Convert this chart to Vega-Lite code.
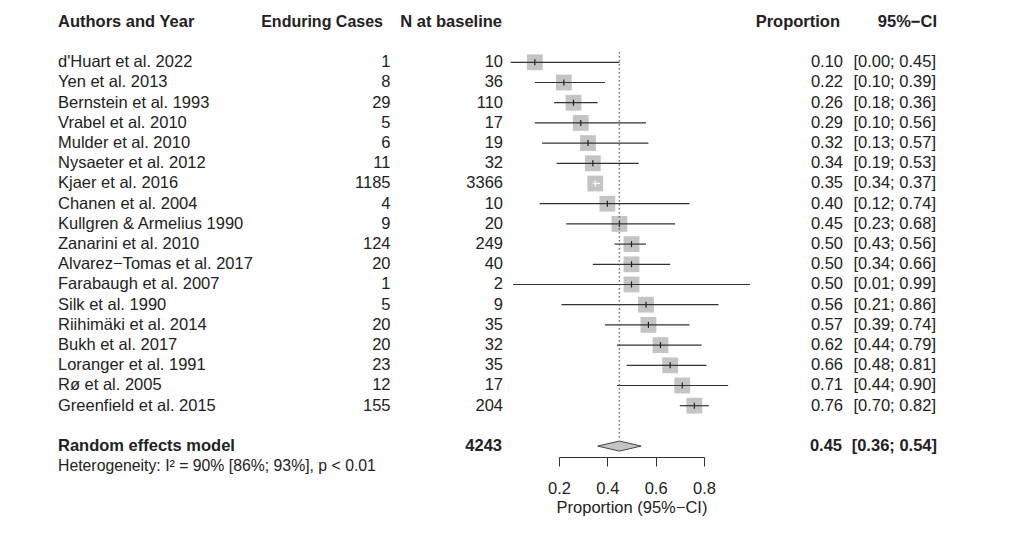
{
  "$schema": "https://vega.github.io/schema/vega-lite/v6.json",
  "padding": 0,
  "bounds": "flush",
  "spacing": 0,
  "background": "white",
  "config": {
    "view": {"stroke": null},
    "font": "Liberation Sans",
    "text": {"font": "Liberation Sans", "fontSize": 16.5, "color": "#222", "baseline": "middle"},
    "axis": {"domainColor": "#333", "tickColor": "#333", "domainWidth": 1, "tickWidth": 1, "labelFont": "Liberation Sans", "labelFontSize": 16.5, "labelColor": "#222", "titleFont": "Liberation Sans", "titleFontSize": 16.5, "titleFontWeight": "normal", "titleColor": "#222", "grid": false}
  },
  "datasets": {
    "studies": [
      {"order": 1, "study": "d'Huart et al. 2022", "cases": 1, "n": 10, "prop": 0.10, "lower": 0.00, "upper": 0.45},
      {"order": 2, "study": "Yen et al. 2013", "cases": 8, "n": 36, "prop": 0.22, "lower": 0.10, "upper": 0.39},
      {"order": 3, "study": "Bernstein et al. 1993", "cases": 29, "n": 110, "prop": 0.26, "lower": 0.18, "upper": 0.36},
      {"order": 4, "study": "Vrabel et al. 2010", "cases": 5, "n": 17, "prop": 0.29, "lower": 0.10, "upper": 0.56},
      {"order": 5, "study": "Mulder et al. 2010", "cases": 6, "n": 19, "prop": 0.32, "lower": 0.13, "upper": 0.57},
      {"order": 6, "study": "Nysaeter et al. 2012", "cases": 11, "n": 32, "prop": 0.34, "lower": 0.19, "upper": 0.53},
      {"order": 7, "study": "Kjaer et al. 2016", "cases": 1185, "n": 3366, "prop": 0.35, "lower": 0.34, "upper": 0.37},
      {"order": 8, "study": "Chanen et al. 2004", "cases": 4, "n": 10, "prop": 0.40, "lower": 0.12, "upper": 0.74},
      {"order": 9, "study": "Kullgren & Armelius 1990", "cases": 9, "n": 20, "prop": 0.45, "lower": 0.23, "upper": 0.68},
      {"order": 10, "study": "Zanarini et al. 2010", "cases": 124, "n": 249, "prop": 0.50, "lower": 0.43, "upper": 0.56},
      {"order": 11, "study": "Alvarez−Tomas et al. 2017", "cases": 20, "n": 40, "prop": 0.50, "lower": 0.34, "upper": 0.66},
      {"order": 12, "study": "Farabaugh et al. 2007", "cases": 1, "n": 2, "prop": 0.50, "lower": 0.01, "upper": 0.99},
      {"order": 13, "study": "Silk et al. 1990", "cases": 5, "n": 9, "prop": 0.56, "lower": 0.21, "upper": 0.86},
      {"order": 14, "study": "Riihimäki et al. 2014", "cases": 20, "n": 35, "prop": 0.57, "lower": 0.39, "upper": 0.74},
      {"order": 15, "study": "Bukh et al. 2017", "cases": 20, "n": 32, "prop": 0.62, "lower": 0.44, "upper": 0.79},
      {"order": 16, "study": "Loranger et al. 1991", "cases": 23, "n": 35, "prop": 0.66, "lower": 0.48, "upper": 0.81},
      {"order": 17, "study": "Rø et al. 2005", "cases": 12, "n": 17, "prop": 0.71, "lower": 0.44, "upper": 0.90},
      {"order": 18, "study": "Greenfield et al. 2015", "cases": 155, "n": 204, "prop": 0.76, "lower": 0.70, "upper": 0.82}
    ],
    "pooled": [
      {"label": "Random effects model", "n": 4243, "prop": 0.45, "lower": 0.36, "upper": 0.54, "het": "Heterogeneity: I² = 90% [86%; 93%], p < 0.01"}
    ],
    "header": [
      {"authors": "Authors and Year", "cases": "Enduring Cases", "n": "N at baseline", "prop": "Proportion", "ci": "95%−CI"}
    ]
  },
  "hconcat": [
    {
      "width": 559,
      "height": 457,
      "layer": [
        {
          "data": {"name": "studies"},
          "mark": {"type": "text", "align": "left"},
          "encoding": {
            "x": {"datum": 58, "type": "quantitative", "scale": {"domain": [0, 559], "nice": false, "zero": false}, "axis": null},
            "y": {"field": "order", "type": "quantitative", "scale": {"domain": [-2.084, 20.54], "reverse": true, "nice": false, "zero": false}, "axis": null},
            "text": {"field": "study"}
          }
        },
        {
          "data": {"name": "studies"},
          "mark": {"type": "text", "align": "right"},
          "encoding": {
            "x": {"datum": 390.5, "type": "quantitative", "scale": {"domain": [0, 559], "nice": false, "zero": false}, "axis": null},
            "y": {"field": "order", "type": "quantitative", "scale": {"domain": [-2.084, 20.54], "reverse": true, "nice": false, "zero": false}, "axis": null},
            "text": {"field": "cases"}
          }
        },
        {
          "data": {"name": "studies"},
          "mark": {"type": "text", "align": "right"},
          "encoding": {
            "x": {"datum": 503, "type": "quantitative", "scale": {"domain": [0, 559], "nice": false, "zero": false}, "axis": null},
            "y": {"field": "order", "type": "quantitative", "scale": {"domain": [-2.084, 20.54], "reverse": true, "nice": false, "zero": false}, "axis": null},
            "text": {"field": "n"}
          }
        },
        {
          "data": {"name": "header"},
          "mark": {"type": "text", "align": "left", "fontWeight": "bold"},
          "encoding": {
            "x": {"datum": 58, "type": "quantitative", "scale": {"domain": [0, 559], "nice": false, "zero": false}, "axis": null},
            "y": {"datum": -1, "type": "quantitative", "scale": {"domain": [-2.084, 20.54], "reverse": true, "nice": false, "zero": false}, "axis": null},
            "text": {"field": "authors"}
          }
        },
        {
          "data": {"name": "header"},
          "mark": {"type": "text", "align": "right", "fontWeight": "bold", "fontSize": 16},
          "encoding": {
            "x": {"datum": 383, "type": "quantitative", "scale": {"domain": [0, 559], "nice": false, "zero": false}, "axis": null},
            "y": {"datum": -1, "type": "quantitative", "scale": {"domain": [-2.084, 20.54], "reverse": true, "nice": false, "zero": false}, "axis": null},
            "text": {"field": "cases"}
          }
        },
        {
          "data": {"name": "header"},
          "mark": {"type": "text", "align": "right", "fontWeight": "bold"},
          "encoding": {
            "x": {"datum": 502, "type": "quantitative", "scale": {"domain": [0, 559], "nice": false, "zero": false}, "axis": null},
            "y": {"datum": -1, "type": "quantitative", "scale": {"domain": [-2.084, 20.54], "reverse": true, "nice": false, "zero": false}, "axis": null},
            "text": {"field": "n"}
          }
        },
        {
          "data": {"name": "pooled"},
          "mark": {"type": "text", "align": "left", "fontWeight": "bold"},
          "encoding": {
            "x": {"datum": 58, "type": "quantitative", "scale": {"domain": [0, 559], "nice": false, "zero": false}, "axis": null},
            "y": {"datum": 20, "type": "quantitative", "scale": {"domain": [-2.084, 20.54], "reverse": true, "nice": false, "zero": false}, "axis": null},
            "text": {"field": "label"}
          }
        },
        {
          "data": {"name": "pooled"},
          "mark": {"type": "text", "align": "right", "fontWeight": "bold"},
          "encoding": {
            "x": {"datum": 502, "type": "quantitative", "scale": {"domain": [0, 559], "nice": false, "zero": false}, "axis": null},
            "y": {"datum": 20, "type": "quantitative", "scale": {"domain": [-2.084, 20.54], "reverse": true, "nice": false, "zero": false}, "axis": null},
            "text": {"field": "n"}
          }
        },
        {
          "data": {"name": "pooled"},
          "mark": {"type": "text", "align": "left", "fontSize": 15.8},
          "encoding": {
            "x": {"datum": 58, "type": "quantitative", "scale": {"domain": [0, 559], "nice": false, "zero": false}, "axis": null},
            "y": {"datum": 21, "type": "quantitative", "scale": {"domain": [-2.084, 20.54], "reverse": true, "nice": false, "zero": false}, "axis": null},
            "text": {"field": "het"}
          }
        }
      ]
    },
    {
      "width": 145,
      "height": 457,
      "layer": [
        {
          "data": {"name": "studies"},
          "mark": {"type": "square", "size": 250, "color": "#c4c4c4", "opacity": 1, "filled": true},
          "encoding": {
            "x": {"field": "prop", "type": "quantitative", "title": "Proportion (95%−CI)", "scale": {"domain": [0.2, 0.8], "nice": false, "zero": false}, "axis": {"values": [0.2, 0.4, 0.6, 0.8], "format": ".1f", "labelFlush": false, "labelOverlap": false, "labelBound": false, "tickSize": 9, "labelPadding": 14, "titlePadding": 3}},
            "y": {"field": "order", "type": "quantitative", "scale": {"domain": [-2.084, 20.54], "reverse": true, "nice": false, "zero": false}, "axis": null}
          }
        },
        {
          "data": {"name": "studies"},
          "mark": {"type": "rule", "strokeWidth": 1.2},
          "encoding": {
            "x": {"field": "lower", "type": "quantitative", "title": "Proportion (95%−CI)"},
            "x2": {"field": "upper", "title": "Proportion (95%−CI)"},
            "y": {"field": "order", "type": "quantitative", "scale": {"domain": [-2.084, 20.54], "reverse": true, "nice": false, "zero": false}, "axis": null},
            "color": {"condition": {"test": "datum.upper - datum.lower < 0.065", "value": "white"}, "value": "#333"}
          }
        },
        {
          "data": {"name": "studies"},
          "mark": {"type": "tick", "orient": "vertical", "size": 6, "thickness": 1.2, "opacity": 1},
          "encoding": {
            "x": {"field": "prop", "type": "quantitative", "title": "Proportion (95%−CI)"},
            "y": {"field": "order", "type": "quantitative", "scale": {"domain": [-2.084, 20.54], "reverse": true, "nice": false, "zero": false}, "axis": null},
            "color": {"condition": {"test": "datum.upper - datum.lower < 0.065", "value": "white"}, "value": "#222"}
          }
        },
        {
          "data": {"name": "pooled"},
          "mark": {"type": "rule", "strokeDash": [1.3, 2.7], "strokeWidth": 1.5, "color": "#555"},
          "encoding": {
            "x": {"field": "prop", "type": "quantitative", "title": "Proportion (95%−CI)"},
            "y": {"datum": 0.5, "type": "quantitative", "scale": {"domain": [-2.084, 20.54], "reverse": true, "nice": false, "zero": false}, "axis": null},
            "y2": {"datum": 19.7}
          }
        },
        {
          "data": {"name": "pooled"},
          "mark": {"type": "point", "shape": "M-1,0L0,-0.23L1,0L0,0.23Z", "size": 1892, "filled": true, "fill": "#c4c4c4", "stroke": "#444", "strokeWidth": 1, "opacity": 1},
          "encoding": {
            "x": {"field": "prop", "type": "quantitative", "title": "Proportion (95%−CI)"},
            "y": {"datum": 20, "type": "quantitative", "scale": {"domain": [-2.084, 20.54], "reverse": true, "nice": false, "zero": false}, "axis": null}
          }
        }
      ]
    },
    {
      "width": 320,
      "height": 457,
      "layer": [
        {
          "data": {"name": "studies"},
          "mark": {"type": "text", "align": "right"},
          "encoding": {
            "x": {"datum": 139, "type": "quantitative", "scale": {"domain": [0, 320], "nice": false, "zero": false}, "axis": null},
            "y": {"field": "order", "type": "quantitative", "scale": {"domain": [-2.084, 20.54], "reverse": true, "nice": false, "zero": false}, "axis": null},
            "text": {"field": "prop", "format": ".2f"}
          }
        },
        {
          "data": {"name": "studies"},
          "transform": [{"calculate": "'[' + format(datum.lower, '.2f') + '; ' + format(datum.upper, '.2f') + ']'", "as": "ci"}],
          "mark": {"type": "text", "align": "right"},
          "encoding": {
            "x": {"datum": 232, "type": "quantitative", "scale": {"domain": [0, 320], "nice": false, "zero": false}, "axis": null},
            "y": {"field": "order", "type": "quantitative", "scale": {"domain": [-2.084, 20.54], "reverse": true, "nice": false, "zero": false}, "axis": null},
            "text": {"field": "ci"}
          }
        },
        {
          "data": {"name": "header"},
          "mark": {"type": "text", "align": "right", "fontWeight": "bold"},
          "encoding": {
            "x": {"datum": 136, "type": "quantitative", "scale": {"domain": [0, 320], "nice": false, "zero": false}, "axis": null},
            "y": {"datum": -1, "type": "quantitative", "scale": {"domain": [-2.084, 20.54], "reverse": true, "nice": false, "zero": false}, "axis": null},
            "text": {"field": "prop"}
          }
        },
        {
          "data": {"name": "header"},
          "mark": {"type": "text", "align": "right", "fontWeight": "bold"},
          "encoding": {
            "x": {"datum": 233, "type": "quantitative", "scale": {"domain": [0, 320], "nice": false, "zero": false}, "axis": null},
            "y": {"datum": -1, "type": "quantitative", "scale": {"domain": [-2.084, 20.54], "reverse": true, "nice": false, "zero": false}, "axis": null},
            "text": {"field": "ci"}
          }
        },
        {
          "data": {"name": "pooled"},
          "mark": {"type": "text", "align": "right", "fontWeight": "bold"},
          "encoding": {
            "x": {"datum": 138, "type": "quantitative", "scale": {"domain": [0, 320], "nice": false, "zero": false}, "axis": null},
            "y": {"datum": 20, "type": "quantitative", "scale": {"domain": [-2.084, 20.54], "reverse": true, "nice": false, "zero": false}, "axis": null},
            "text": {"field": "prop", "format": ".2f"}
          }
        },
        {
          "data": {"name": "pooled"},
          "transform": [{"calculate": "'[' + format(datum.lower, '.2f') + '; ' + format(datum.upper, '.2f') + ']'", "as": "ci"}],
          "mark": {"type": "text", "align": "right", "fontWeight": "bold"},
          "encoding": {
            "x": {"datum": 233, "type": "quantitative", "scale": {"domain": [0, 320], "nice": false, "zero": false}, "axis": null},
            "y": {"datum": 20, "type": "quantitative", "scale": {"domain": [-2.084, 20.54], "reverse": true, "nice": false, "zero": false}, "axis": null},
            "text": {"field": "ci"}
          }
        }
      ]
    }
  ]
}
